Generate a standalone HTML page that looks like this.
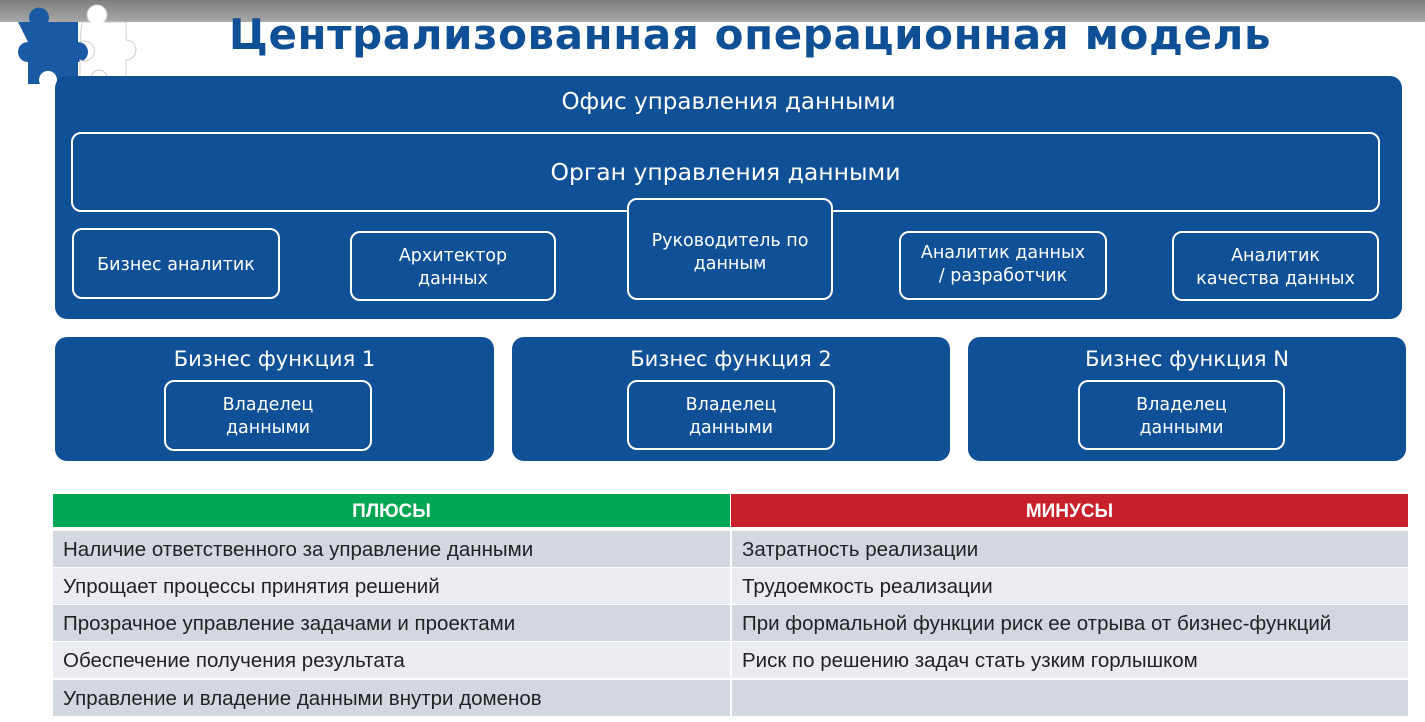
<!DOCTYPE html>
<html><head><meta charset="utf-8"><style>
*{margin:0;padding:0;box-sizing:border-box}
body{width:1425px;height:722px;position:relative;background:#fff;overflow:hidden;font-family:"DejaVu Sans","Liberation Sans",sans-serif}
.a{position:absolute}
.blue{background:#0f5096;border-radius:12px}
.box{position:absolute;border:2.5px solid #fff;border-radius:10px;color:#fff;display:flex;align-items:center;justify-content:center;text-align:center;font-size:17.5px;line-height:23px;background:#0f5096;padding-top:3px}
.t{color:#fff;position:absolute;text-align:center;font-size:21px}
.row{position:absolute;left:53px;width:1355px;height:36px;font-family:"Liberation Sans",sans-serif;font-size:20.5px;color:#222}
.row span{position:absolute;top:7px}
</style></head><body>
<div class="a" style="left:0;top:0;width:1425px;height:22px;background:linear-gradient(#7d7d7d,#a8a8a8)"></div>
<div class="a" style="left:200px;top:10px;width:1100px;text-align:center;font-size:42px;font-weight:bold;color:#0f4f95;font-family:'DejaVu Sans',sans-serif;letter-spacing:0.6px">Централизованная операционная модель</div>
<svg class="a" style="left:0;top:0" width="145" height="100">
<path d="M18 22 h12 a10 10 0 1 1 18 0 h30 v20 a10 10 0 1 1 0 20 v22 h-22 a9 9 0 1 0 -16 0 h-12 v-22 a10 10 0 1 1 0 -20 z" fill="#1a5aa5"/>
<path d="M82 22 h8 a10 10 0 1 1 14 0 h22 v18 a10 10 0 1 1 0 20 v22 h-20 a8 8 0 1 0 -14 0 h-12 v-22 a10 10 0 1 0 0 -18 z" fill="#fff" stroke="#ccc"/>
</svg>
<div class="a blue" style="left:55px;top:76px;width:1347px;height:243px"></div>
<div class="t" style="left:55px;top:89px;width:1347px;font-size:23px">Офис управления данными</div>
<div class="box" style="left:71px;top:132px;width:1309px;height:80px;font-size:23.5px;align-items:flex-start;padding-top:27px">Орган управления данными</div>
<div class="box" style="left:72px;top:228px;width:208px;height:71px">Бизнес аналитик</div>
<div class="box" style="left:350px;top:231px;width:206px;height:70px">Архитектор<br>данных</div>
<div class="box" style="left:627px;top:198px;width:206px;height:102px;align-items:flex-start;padding-top:30px">Руководитель по<br>данным</div>
<div class="box" style="left:899px;top:231px;width:208px;height:69px;align-items:flex-start;padding-top:9px">Аналитик данных<br>/ разработчик</div>
<div class="box" style="left:1172px;top:231px;width:207px;height:70px">Аналитик<br>качества данных</div>

<div class="a blue" style="left:55px;top:337px;width:439px;height:124px"></div>
<div class="a blue" style="left:512px;top:337px;width:438px;height:124px"></div>
<div class="a blue" style="left:968px;top:337px;width:438px;height:124px"></div>
<div class="t" style="left:55px;top:347px;width:439px">Бизнес функция 1</div>
<div class="t" style="left:512px;top:347px;width:438px">Бизнес функция 2</div>
<div class="t" style="left:968px;top:347px;width:438px">Бизнес функция N</div>
<div class="box" style="left:164px;top:380px;width:208px;height:71px">Владелец<br>данными</div>
<div class="box" style="left:627px;top:380px;width:208px;height:70px">Владелец<br>данными</div>
<div class="box" style="left:1078px;top:380px;width:207px;height:70px">Владелец<br>данными</div>

<div class="a" style="left:53px;top:494px;width:677px;height:33px;background:#00a651;color:#fff;font-family:'Liberation Sans',sans-serif;font-weight:bold;font-size:19px;text-align:center;line-height:35px">ПЛЮСЫ</div>
<div class="a" style="left:731px;top:494px;width:677px;height:33px;background:#c8202a;color:#fff;font-family:'Liberation Sans',sans-serif;font-weight:bold;font-size:19px;text-align:center;line-height:35px">МИНУСЫ</div>
<div class="row" style="top:531px;background:#d3d7e0"><span style="left:10px">Наличие ответственного за управление данными</span><span style="left:689px">Затратность реализации</span></div>
<div class="row" style="top:568px;background:#eaecf1"><span style="left:10px">Упрощает процессы принятия решений</span><span style="left:689px">Трудоемкость реализации</span></div>
<div class="row" style="top:605px;background:#d3d7e0"><span style="left:10px">Прозрачное управление задачами и проектами</span><span style="left:689px">При формальной функции риск ее отрыва от бизнес-функций</span></div>
<div class="row" style="top:642px;background:#eaecf1"><span style="left:10px">Обеспечение получения результата</span><span style="left:689px">Риск по решению задач стать узким горлышком</span></div>
<div class="row" style="top:680px;background:#d3d7e0"><span style="left:10px">Управление и владение данными внутри доменов</span></div>
<div class="a" style="left:730px;top:527px;width:2px;height:190px;background:#fff"></div>
</body></html>
